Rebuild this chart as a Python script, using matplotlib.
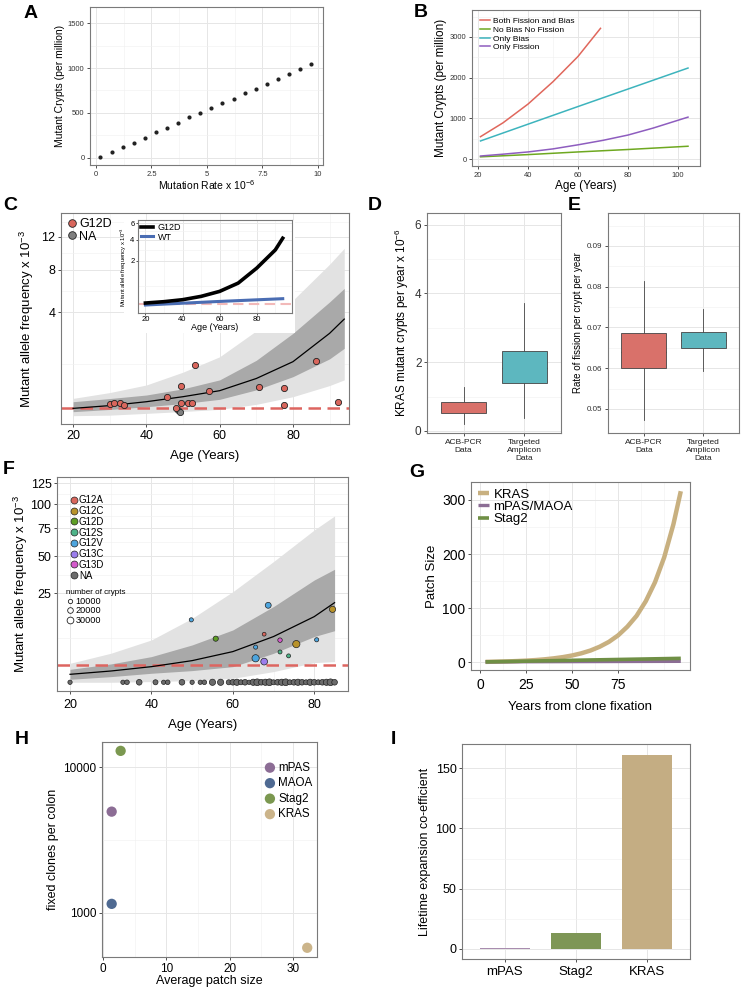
import numpy as np
import matplotlib
matplotlib.use("Agg")
import matplotlib.pyplot as plt
from matplotlib.lines import Line2D
from matplotlib.patches import Rectangle
from matplotlib.ticker import FixedLocator, NullFormatter, FixedFormatter

plt.rcParams['font.family'] = ['Liberation Sans', 'DejaVu Sans']
plt.rcParams['mathtext.fontset'] = 'custom'
plt.rcParams['mathtext.rm'] = 'Liberation Sans'

# ---------------- DATA ----------------
# A
a_rate = [0.2, 0.7, 1.2, 1.7, 2.2, 2.7, 3.2, 3.7, 4.2, 4.7, 5.2, 5.7, 6.2, 6.7, 7.2, 7.7, 8.2, 8.7, 9.2, 9.7]
a_crypts = [10, 65, 120, 170, 225, 285, 335, 385, 450, 505, 550, 610, 660, 720, 770, 825, 880, 930, 985, 1040]
# B
b_labels = ["Both Fission and Bias", "No Bias No Fission", "Only Bias", "Only Fission"]
b_age_both = [21, 30, 40, 50, 60, 69]
b_val_both = [550, 890, 1350, 1900, 2520, 3210]
b_age_nobias = [21, 40, 60, 80, 104]
b_val_nobias = [55, 110, 175, 235, 315]
b_age_bias = [21, 60, 104]
b_val_bias = [445, 1290, 2235]
b_age_fission = [21, 30, 40, 50, 60, 70, 80, 90, 104]
b_val_fission = [75, 120, 175, 250, 350, 460, 590, 760, 1030]
# C
c_age_g12d = [30, 31.1, 32.7, 33.8, 45.5, 48.0, 49.4, 49.4, 51.3, 52.4, 53.3, 57.2, 70.7, 77.6, 77.6, 86.4, 92.2]
c_af_g12d = [0.051, 0.063, 0.057, 0.045, 0.135, 0.02, 0.337, 0.057, 0.057, 0.057, 0.96, 0.234, 0.31, 0.29, 0.04, 1.13, 0.07]
c_age_na = [48.6, 49.3]
c_af_na = [0.012, 0.006]
c_fit_age = [20, 30, 40, 50, 60, 70, 80, 90, 94]
c_fit = [0.020, 0.038, 0.073, 0.135, 0.234, 0.518, 1.092, 2.541, 3.497]
c_light_hi = [0.112, 0.2, 0.353, 0.71, 1.30, 2.7, 5.0, 8.6, 10.5]
c_light_lo = [0.0, 0.0001, 0.002, 0.0064, 0.015, 0.048, 0.135, 0.34, 0.48]
c_dark_hi = [0.073, 0.11, 0.16, 0.27, 0.48, 1.15, 2.54, 4.85, 6.07]
c_dark_lo = [0.006, 0.0144, 0.03, 0.055, 0.10, 0.25, 0.57, 1.21, 1.70]
c_threshold = 0.02
# C inset
ci_age = [20, 30, 40, 50, 60, 70, 80, 90, 94]
ci_g12d = [0.061, 0.081, 0.115, 0.186, 0.324, 0.637, 1.47, 2.94, 4.15]
ci_wt_age = [20, 57, 94]
ci_wt = [0.037, 0.081, 0.135]
ci_threshold = 0.048
# D / E
de_groups = ["ACB-PCR\nData", "Targeted\nAmplicon\nData"]
d_stats = [dict(whislo=0.19, q1=0.53, med=0.65, q3=0.83, whishi=1.28),
           dict(whislo=0.39, q1=1.40, med=1.82, q3=2.32, whishi=3.73)]
e_stats = [dict(whislo=0.0473, q1=0.0600, med=0.0641, q3=0.0686, whishi=0.0815),
           dict(whislo=0.0593, q1=0.0650, med=0.0670, q3=0.0689, whishi=0.0746)]
# F
f_mut = ["G12A", "G12C", "G12D", "G12S", "G12V", "G13C", "G13D", "NA"]
f_pt_age = [49.8, 55.8, 68.7, 67.7, 65.6, 71.6, 75.6, 80.6, 84.5, 71.6, 73.7, 65.6, 67.7]
f_pt_af = [12.3, 6.0, 18.7, 7.3, 3.9, 5.6, 4.6, 5.7, 16.8, 2.9, 2.2, 1.82, 1.35]
f_pt_mut = ["G12V", "G12D", "G12V", "G12A", "G12V", "G13D", "G12C", "G12V", "G12C", "G12S", "G12S", "G12V", "G13C"]
f_pt_n = [9000, 16000, 22000, 7000, 9000, 11000, 35000, 9000, 25000, 8000, 8000, 35000, 30000]
f_na_age = [20, 33, 34, 37, 41, 43, 44, 47.5, 50, 52, 53, 55, 57, 59, 60, 61, 62, 63, 64, 65, 66,
            67, 68, 69, 70, 71, 72, 73, 74, 75, 76, 77, 78, 79, 80, 81, 82, 83, 84, 85]
f_na_n = [10000, 10000, 12000, 20000, 15000, 10000, 12000, 20000, 10000, 10000, 12000, 25000, 25000,
          15000, 20000, 25000, 15000, 20000, 10000, 25000, 30000, 20000, 25000, 30000, 15000, 20000,
          25000, 30000, 15000, 20000, 25000, 20000, 15000, 25000, 20000, 15000, 20000, 25000, 30000, 20000]
f_fit_age = [20, 30, 40, 50, 60, 70, 80, 85]
f_fit = [0.2, 0.4, 0.77, 1.48, 2.97, 6.6, 13.6, 20.0]
f_light_hi = [1.14, 2.65, 5.66, 12.9, 25.9, 46.0, 73.2, 87.3]
f_light_lo = [0.0, 0.0, 0.0014, 0.009, 0.05, 0.36, 1.22, 1.35]
f_dark_hi = [0.53, 1.06, 2.08, 4.4, 8.64, 18.1, 33.0, 40.3]
f_dark_lo = [0.028, 0.1, 0.256, 0.43, 0.77, 2.65, 6.6, 8.4]
f_threshold = 0.95
f_size_legend = [10000, 20000, 30000]
# G
g_t = [3, 10, 15, 20, 25, 30, 35, 40, 45, 50, 55, 60, 65, 70, 75, 80, 85, 90, 95, 100, 105, 109]
g_kras = [1.0, 1.5, 1.9, 2.5, 3.3, 4.3, 5.7, 7.5, 9.8, 12.8, 16.8, 22, 29, 38, 50, 66, 86, 113, 148, 194, 255, 316]
g_t2 = [3, 109]
g_mpas = [1.0, 2.0]
g_stag2 = [1.0, 7.5]
# H
h_names = ["mPAS", "MAOA", "Stag2", "KRAS"]
h_patch = [1.33, 1.33, 2.75, 32.3]
h_clones = [4950, 1150, 12950, 574]
# I
i_names = ["mPAS", "Stag2", "KRAS"]
i_coef = [1.0, 13.0, 161.0]

# ---------------- HELPERS ----------------
W, H = 744, 989
fig = plt.figure(figsize=(W / 100, H / 100), dpi=100)

def add_ax(x0, y0, x1, y1, **kw):
    return fig.add_axes([x0 / W, 1 - y1 / H, (x1 - x0) / W, (y1 - y0) / H], **kw)

def ssqrt(v):
    v = np.asarray(v, dtype=float)
    return np.sign(v) * np.sqrt(np.abs(v))

def isqrt(v):
    v = np.asarray(v, dtype=float)
    return np.sign(v) * np.square(v)

def style(ax, size, color='#333333'):
    ax.set_facecolor('white')
    for s in ax.spines.values():
        s.set_color('#7a7a7a')
        s.set_linewidth(0.8)
    ax.grid(which='major', color='#e6e6e6', lw=0.7)
    ax.grid(which='minor', color='#f1f1f1', lw=0.45)
    ax.set_axisbelow(True)
    ax.tick_params(which='major', length=2.5, width=0.6, color='#333333', labelsize=size,
                   labelcolor=color, pad=1.5)
    ax.tick_params(which='minor', length=0)

def letter(x, y, s):
    fig.text(x / W, 1 - y / H, s, fontsize=14, fontweight='bold', va='top', ha='left')

# ---------------- A ----------------
ax = add_ax(90, 7, 323, 165)
style(ax, 5.5)
ax.scatter(a_rate, a_crypts, s=9, color='#222222', zorder=3, linewidths=0)
ax.set_xlim(-0.27, 10.23)
ax.set_ylim(-78, 1678)
ax.set_xticks([0, 2.5, 5, 7.5, 10], ['0', '2.5', '5', '7.5', '10'])
ax.set_xticks([1.25, 3.75, 6.25, 8.75], minor=True)
ax.set_yticks([0, 500, 1000, 1500])
ax.set_yticks([250, 750, 1250], minor=True)
ax.set_xlabel("Mutation Rate x 10$^{-6}$", fontsize=7.5, labelpad=0.5)
ax.set_ylabel("Mutant Crypts (per million)", fontsize=7.5, labelpad=2)
letter(24, 5, 'A')

# ---------------- B ----------------
ax = add_ax(472, 10, 700, 166)
style(ax, 5.5)
bcols = ['#E0675C', '#6EA820', '#3DB4BD', '#8E5DBF']
ax.plot(b_age_both, b_val_both, color=bcols[0], lw=1.1, label=b_labels[0])
ax.plot(b_age_nobias, b_val_nobias, color=bcols[1], lw=1.1, label=b_labels[1])
ax.plot(b_age_bias, b_val_bias, color=bcols[2], lw=1.1, label=b_labels[2])
ax.plot(b_age_fission, b_val_fission, color=bcols[3], lw=1.1, label=b_labels[3])
ax.set_xlim(17.6, 108.8)
ax.set_ylim(-170, 3660)
ax.set_xticks([20, 40, 60, 80, 100])
ax.set_xticks([30, 50, 70, 90], minor=True)
ax.set_yticks([0, 1000, 2000, 3000])
ax.set_yticks([500, 1500, 2500, 3500], minor=True)
ax.set_xlabel("Age (Years)", fontsize=8.5, labelpad=1)
ax.set_ylabel("Mutant Crypts (per million)", fontsize=8.5, labelpad=2)
ax.legend(loc='upper left', fontsize=6.0, frameon=False, handlelength=1.3, handletextpad=0.3,
          labelspacing=0.1, borderaxespad=0.7, borderpad=0.2)
letter(414, 4, 'B')

# ---------------- C ----------------
ax = add_ax(61, 213, 349, 424)
style(ax, 9, 'black')
ax.set_yscale('function', functions=(ssqrt, isqrt))
ax.fill_between(c_fit_age, c_light_lo, c_light_hi, color='#e2e2e2', lw=0, zorder=1)
ax.fill_between(c_fit_age, c_dark_lo, c_dark_hi, color='#a9a9a9', lw=0, zorder=1.1)
ax.axhline(c_threshold, color='#DD6560', lw=1.8, ls=(0, (5, 2.6)), zorder=1.5)
ax.plot(c_fit_age, c_fit, color='black', lw=0.9, zorder=2)
ax.scatter(c_age_na, c_af_na, s=20, color='#7f7f7f', edgecolors='#222222', linewidths=0.6, zorder=3)
ax.scatter(c_age_g12d, c_af_g12d, s=20, color='#D9665C', edgecolors='#222222', linewidths=0.6, zorder=3)
ax.set_xlim(16.7, 95.3)
ax.set_ylim(-0.026, 15.4)
ax.set_xticks([20, 40, 60, 80])
ax.set_xticks([30, 50, 70, 90], minor=True)
ax.set_yticks([4, 8, 12])
ax.set_yticks([1, 5.83, 9.9, 14.0], minor=True)
ax.set_xlabel("Age (Years)", fontsize=9.5, labelpad=6)
ax.set_ylabel("Mutant allele frequency x 10$^{-3}$", fontsize=9.5, labelpad=4)
hc = [Line2D([], [], ls='', marker='o', ms=5.5, mfc='#D9665C', mec='#222222', mew=0.6),
      Line2D([], [], ls='', marker='o', ms=5.5, mfc='#7f7f7f', mec='#222222', mew=0.6)]
ax.legend(hc, ['G12D', 'NA'], loc='upper left', fontsize=9, frameon=False, handletextpad=0.05,
          labelspacing=0.05, borderaxespad=0.3, borderpad=0.1, handlelength=1.0)
letter(3, 197, 'C')

# inset
rect = Rectangle((124 / W, 1 - 333 / H), (295 - 124) / W, (333 - 220) / H, transform=fig.transFigure,
                 facecolor='white', edgecolor='none', zorder=5)
fig.add_artist(rect)
axi = add_ax(138, 220, 292, 313, zorder=6)
style(axi, 5.5, 'black')
axi.set_yscale('function', functions=(ssqrt, isqrt))
axi.axhline(ci_threshold, color='#F2B9B9', lw=1.5, ls=(0, (5, 2.6)), zorder=1)
axi.plot(ci_wt_age, ci_wt, color='#4A6DB3', lw=2.2, zorder=2, label='WT')
axi.plot(ci_age, ci_g12d, color='black', lw=2.6, zorder=3, label='G12D')
axi.set_xlim(16, 99)
axi.set_ylim(-0.0008, 6.46)
axi.set_xticks([20, 40, 60, 80])
axi.set_xticks([30, 50, 70, 90], minor=True)
axi.set_yticks([2, 4, 6])
axi.set_yticks([0.5, 2.9, 5.0], minor=True)
axi.tick_params(which='major', length=1.5, pad=1)
axi.set_xlabel("Age (Years)", fontsize=6.5, labelpad=0)
axi.set_ylabel("Mutant allele frequency x 10$^{-3}$", fontsize=4.2, labelpad=1)
hh, ll = axi.get_legend_handles_labels()
axi.legend([hh[1], hh[0]], [ll[1], ll[0]], loc='upper left', fontsize=6.5, frameon=False,
           handlelength=1.4, handletextpad=0.5, labelspacing=0.1, borderaxespad=0.2, borderpad=0.1)

# ---------------- D ----------------
de_cols = ['#D9716A', '#5DB7BF']

def boxes(ax, stats):
    bp = ax.bxp(stats, positions=[1, 2], widths=0.75, showfliers=False, showcaps=False, patch_artist=True,
                medianprops=dict(color='#333333', lw=1.0),
                whiskerprops=dict(color='#444444', lw=0.6),
                boxprops=dict(edgecolor='#444444', lw=0.6))
    for p, c in zip(bp['boxes'], de_cols):
        p.set_facecolor(c)
        p.set_zorder(3)

ax = add_ax(427, 213, 561, 433)
style(ax, 8.5, '#333333')
boxes(ax, d_stats)
ax.set_xlim(0.4, 2.6)
ax.set_ylim(-0.06, 6.34)
ax.set_xticks([1, 2], de_groups)
ax.tick_params(axis='x', labelsize=6.0, labelcolor='#222222')
ax.set_yticks([0, 2, 4, 6])
ax.set_yticks([1, 3, 5], minor=True)
ax.set_ylabel("KRAS mutant crypts per year x 10$^{-6}$", fontsize=8.5, labelpad=3)
letter(368, 197, 'D')

# ---------------- E ----------------
ax = add_ax(608, 213, 739, 433)
style(ax, 5.8, '#333333')
boxes(ax, e_stats)
ax.set_xlim(0.4, 2.6)
ax.set_ylim(0.0441, 0.0981)
ax.set_xticks([1, 2], de_groups)
ax.tick_params(axis='x', labelsize=6.0, labelcolor='#222222')
ax.set_yticks([0.05, 0.06, 0.07, 0.08, 0.09], ['0.05', '0.06', '0.07', '0.08', '0.09'])
ax.set_yticks([0.055, 0.065, 0.075, 0.085, 0.095], minor=True)
ax.set_ylabel("Rate of fission per crypt per year", fontsize=7, labelpad=3)
letter(568, 197, 'E')

# ---------------- F ----------------
fcols = {"G12A": '#D9665C', "G12C": '#B8922A', "G12D": '#5E9E25', "G12S": '#4DB388',
         "G12V": '#4DA5DE', "G13C": '#9B7EEC', "G13D": '#D45ACB', "NA": '#6b6b6b'}

def fsize(n):
    return 2.6 + 0.0007 * np.asarray(n, dtype=float)

ax = add_ax(57, 477, 348, 691)
style(ax, 9, 'black')
ax.tick_params(axis='x', pad=3)
ax.set_yscale('function', functions=(ssqrt, isqrt))
ax.fill_between(f_fit_age, f_light_lo, f_light_hi, color='#e2e2e2', lw=0, zorder=1)
ax.fill_between(f_fit_age, f_dark_lo, f_dark_hi, color='#a9a9a9', lw=0, zorder=1.1)
ax.axhline(f_threshold, color='#DD6560', lw=1.8, ls=(0, (5, 2.6)), zorder=1.5)
ax.plot(f_fit_age, f_fit, color='black', lw=0.9, zorder=2)
ax.scatter(f_na_age, np.zeros(len(f_na_age)), s=fsize(f_na_n), color=fcols["NA"], edgecolors='#222222',
           linewidths=0.5, zorder=3)
ax.scatter(f_pt_age, f_pt_af, s=fsize(f_pt_n), color=[fcols[m] for m in f_pt_mut], edgecolors='#222222',
           linewidths=0.5, zorder=3)
ax.set_xlim(16.8, 88.3)
ax.set_ylim(-0.24, 133)
ax.set_xticks([20, 40, 60, 80])
ax.set_xticks([30, 50, 70], minor=True)
ax.set_yticks([25, 50, 75, 100, 125])
ax.set_yticks([6.25, 36.4, 62.1, 87.2, 112.3], minor=True)
ax.set_xlabel("Age (Years)", fontsize=9.5, labelpad=6)
ax.set_ylabel("Mutant allele frequency x 10$^{-3}$", fontsize=9.5, labelpad=0)
hf = [Line2D([], [], ls='', marker='o', ms=5, mfc=fcols[m], mec='#222222', mew=0.5) for m in f_mut]
leg1 = ax.legend(hf, f_mut, loc='upper left', bbox_to_anchor=(0.04, 0.915), fontsize=7.0, frameon=False,
                 handletextpad=0.05, labelspacing=0.08, borderaxespad=0.0, borderpad=0.0, handlelength=1.0)
ax.add_artist(leg1)
hs = [Line2D([], [], ls='', marker='o', ms=np.sqrt(fsize(n)), mfc='white', mec='#222222', mew=0.6)
      for n in f_size_legend]
leg2 = ax.legend(hs, [str(n) for n in f_size_legend], title='number of crypts', loc='upper left',
                 bbox_to_anchor=(0.03, 0.475), fontsize=6.6, title_fontsize=5.8, frameon=False,
                 handletextpad=0.1, labelspacing=0.05, borderaxespad=0.0, borderpad=0.0, handlelength=1.0)
leg2._legend_box.align = 'left'
letter(3, 461, 'F')

# ---------------- G ----------------
ax = add_ax(471, 482, 690, 670)
style(ax, 10, 'black')
ax.tick_params(axis='x', pad=3)
ax.plot(g_t, g_kras, color='#C8B080', lw=3.2, solid_capstyle='butt', label='KRAS', zorder=2)
ax.plot(g_t2, g_mpas, color='#8B6D94', lw=2.4, solid_capstyle='butt', label='mPAS/MAOA', zorder=3)
ax.plot(g_t2, g_stag2, color='#6F8F45', lw=2.6, solid_capstyle='butt', label='Stag2', zorder=4)
ax.set_xlim(-4.9, 114)
ax.set_ylim(-14, 333)
ax.set_xticks([0, 25, 50, 75])
ax.set_xticks([12.5, 37.5, 62.5, 87.5, 100], minor=True)
ax.set_yticks([0, 100, 200, 300])
ax.set_yticks([50, 150, 250], minor=True)
ax.set_xlabel("Years from clone fixation", fontsize=9.5, labelpad=7)
ax.set_ylabel("Patch Size", fontsize=9.5, labelpad=3)
ax.legend(loc='upper left', fontsize=9.5, frameon=False, handlelength=0.9, handletextpad=0.3,
          labelspacing=0.0, borderaxespad=0.4, borderpad=0.1)
letter(409, 464, 'G')

# ---------------- H ----------------
hcols = ['#8C6D95', '#4F6A92', '#7B9850', '#CBB48A']
ax = add_ax(102, 742, 317, 957)
style(ax, 8.5, 'black')
ax.set_yscale('log')
for x, y, c, n in zip(h_patch, h_clones, hcols, h_names):
    ax.scatter([x], [y], s=55, color=c, edgecolors='none', label=n, zorder=3)
ax.set_xlim(-0.2, 33.85)
ax.set_ylim(496, 14900)
ax.set_xticks([0, 10, 20, 30])
ax.set_xticks([5, 15, 25], minor=True)
ax.yaxis.set_major_locator(FixedLocator([1000, 10000]))
ax.yaxis.set_major_formatter(FixedFormatter(['1000', '10000']))
ax.yaxis.set_minor_locator(FixedLocator([3162.3]))
ax.yaxis.set_minor_formatter(NullFormatter())
ax.set_xlabel("Average patch size", fontsize=9, labelpad=0.5)
ax.set_ylabel("fixed clones per colon", fontsize=9, labelpad=3)
ax.legend(loc='upper right', bbox_to_anchor=(1.0, 0.93), fontsize=8.4, frameon=False, handletextpad=0.1,
          labelspacing=0.3, borderaxespad=0.3, borderpad=0.1, handlelength=1.2)
letter(15, 731, 'H')

# ---------------- I ----------------
icols = ['#A98DAF', '#7E9656', '#C4AD83']
ax = add_ax(462, 744, 690, 959)
style(ax, 9, 'black')
ax.bar(range(1, 4), i_coef, width=0.7, color=icols, zorder=3)
ax.set_xlim(0.4, 3.6)
ax.set_ylim(-8.3, 170)
ax.set_xticks([1, 2, 3], i_names)
ax.tick_params(axis='x', labelsize=9.5, pad=2.5)
ax.set_yticks([0, 50, 100, 150])
ax.set_yticks([25, 75, 125], minor=True)
ax.set_ylabel("Lifetime expansion co-efficient", fontsize=9, labelpad=3)
letter(391, 731, 'I')

fig.savefig("out.png", dpi=100)
